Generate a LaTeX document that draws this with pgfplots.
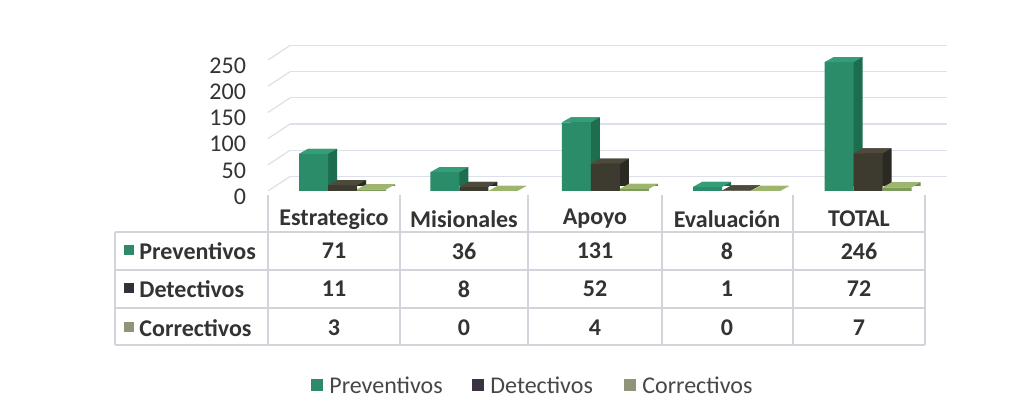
\documentclass[border=0pt]{standalone}
\usepackage{fontspec}
\setmainfont{Carlito}
\usepackage{pgfplots}
\pgfplotsset{compat=1.18}
\definecolor{prevF}{HTML}{2B8C69}
\definecolor{prevS}{HTML}{1D6E4F}
\definecolor{prevT}{HTML}{339E78}
\definecolor{detF}{HTML}{3D3B30}
\definecolor{detS}{HTML}{2B2A22}
\definecolor{detT}{HTML}{4D4A3C}
\definecolor{corF}{HTML}{7D9B5A}
\definecolor{corS}{HTML}{6B8A4A}
\definecolor{corT}{HTML}{9DB56C}
\definecolor{gridc}{HTML}{DCE0E8}
\definecolor{tabc}{HTML}{D2D4DC}
\definecolor{txt}{HTML}{333333}
\definecolor{legP}{HTML}{2E8A6B}
\definecolor{legD}{HTML}{3B3440}
\definecolor{legC}{HTML}{8E957A}
\pgfdeclareplotmark{topface}{%
  \pgfpathmoveto{\pgfqpoint{-7.25pt}{0pt}}%
  \pgfpathlineto{\pgfqpoint{7.25pt}{0pt}}%
  \pgfpathlineto{\pgfqpoint{11.75pt}{2.5pt}}%
  \pgfpathlineto{\pgfqpoint{-2.75pt}{2.5pt}}%
  \pgfpathclose\pgfusepathqfill}
\begin{document}
\begin{tikzpicture}
\path[use as bounding box, fill=white] (0,0) rectangle (516pt,208.5pt);
\begin{axis}[at={(134pt,113pt)}, anchor=south west, scale only axis,
  width=328.5pt, height=65.5pt, xmin=-0.5, xmax=4.5, ymin=0, ymax=250,
  clip=false, axis line style={draw=none}, major tick length=0pt,
  xtick=\empty, ytick={0,50,100,150,200,250},
  /pgf/number format/assume math mode=true,
  yticklabel style={font=\fontsize{12}{14}\selectfont, text=txt, xshift=-7.5pt, yshift=-2.75pt}]
\pgfplotsinvokeforeach{0,50,100,150,200,250}{
  \draw[gridc, line width=0.6pt] ([xshift=11pt,yshift=7.25pt]axis cs:-0.5,#1) -- ([xshift=11pt,yshift=7.25pt]axis cs:4.5,#1);
  \draw[gridc, line width=0.6pt] (axis cs:-0.5,#1) -- ([xshift=11pt,yshift=7.25pt]axis cs:-0.5,#1);
}
% Preventivos
\addplot[ybar, bar width=14.5pt, bar shift=-5.6pt, yshift=2.5pt, fill=prevS, draw=none] coordinates {(0,71) (1,36) (2,131) (3,8) (4,246)};
\addplot[ybar, bar width=14.5pt, bar shift=-10.1pt, fill=prevF, draw=none] coordinates {(0,71) (1,36) (2,131) (3,8) (4,246)};
\addplot[only marks, mark=topface, color=prevT, xshift=-10.1pt] coordinates {(0,71) (1,36) (2,131) (3,8) (4,246)};
% Detectivos
\addplot[ybar, bar width=14.5pt, bar shift=8.9pt, yshift=2.5pt, fill=detS, draw=none] coordinates {(0,11) (1,8) (2,52) (3,1) (4,72)};
\addplot[ybar, bar width=14.5pt, bar shift=4.4pt, fill=detF, draw=none] coordinates {(0,11) (1,8) (2,52) (3,1) (4,72)};
\addplot[only marks, mark=topface, color=detT, xshift=4.4pt] coordinates {(0,11) (1,8) (2,52) (3,1) (4,72)};
% Correctivos
\addplot[ybar, bar width=14.5pt, bar shift=23.4pt, yshift=2.5pt, fill=corS, draw=none] coordinates {(0,3) (1,0) (2,4) (3,0) (4,7)};
\addplot[ybar, bar width=14.5pt, bar shift=18.9pt, fill=corF, draw=none] coordinates {(0,3) (1,0) (2,4) (3,0) (4,7)};
\addplot[only marks, mark=topface, color=corT, xshift=18.9pt] coordinates {(0,3) (1,0) (2,4) (3,0) (4,7)};
\end{axis}
\begin{scope}[x=0.5pt,y=0.5pt]
% table lines
\draw[tabc, line width=0.8pt] (115,185) -- (925,185);
\draw[tabc, line width=0.8pt] (115,147) -- (925,147);
\draw[tabc, line width=0.8pt] (115,109) -- (925,109);
\draw[tabc, line width=0.8pt] (115,72) -- (925,72);
\draw[tabc, line width=0.8pt] (115,185) -- (115,72);
\foreach \x in {268,400,528,662,793,925} \draw[tabc, line width=0.8pt] (\x,222) -- (\x,72);
\begin{scope}[every node/.style={font=\fontsize{12}{14}\selectfont\bfseries, text=txt, inner sep=0pt}]
\node at (334,198) {Estrategico};
\node at (464,198) {Misionales};
\node at (595,198) {Apoyo};
\node at (727,198) {Evaluación};
\node at (859,198) {TOTAL};
\fill[legP] (124,162) rectangle (134,172);
\node[anchor=west] at (139,166) {Preventivos};
\fill[legD!90!black] (124,124) rectangle (134,134);
\node[anchor=west] at (139,128) {Detectivos};
\fill[legC] (124,85) rectangle (134,95);
\node[anchor=west] at (139,89) {Correctivos};
\node at (334,166) {71};  \node at (464,166) {36}; \node at (595,166) {131}; \node at (727,166) {8}; \node at (859,166) {246};
\node at (334,128) {11};  \node at (464,128) {8};  \node at (595,128) {52};  \node at (727,128) {1}; \node at (859,128) {72};
\node at (334,89) {3};    \node at (464,89) {0};   \node at (595,89) {4};    \node at (727,89) {0}; \node at (859,89) {7};
\end{scope}
% legend
\begin{scope}[every node/.style={font=\fontsize{12}{14}\selectfont, text=txt!90!white, inner sep=0pt, anchor=west}]
\fill[legP] (311,26) rectangle (323,38);
\node at (329,32) {Preventivos};
\fill[legD] (472,26) rectangle (484,38);
\node at (490,32) {Detectivos};
\fill[legC] (624,26) rectangle (636,38);
\node at (642,32) {Correctivos};
\end{scope}
\end{scope}
\end{tikzpicture}
\end{document}
